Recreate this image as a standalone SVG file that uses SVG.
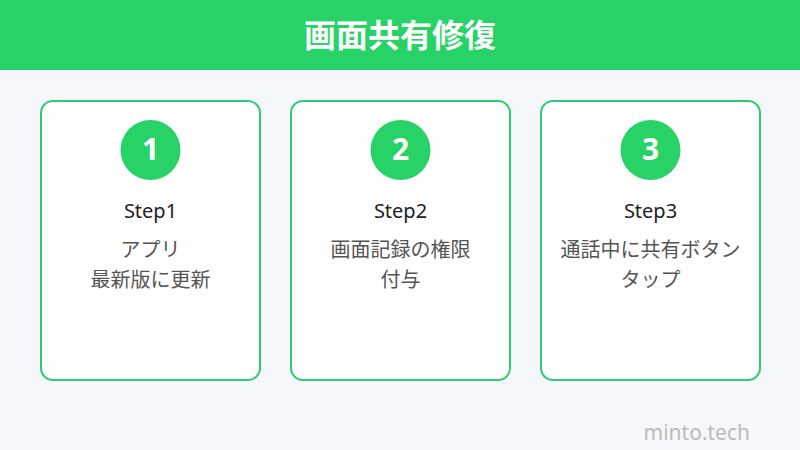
<svg xmlns="http://www.w3.org/2000/svg" width="800" height="450" viewBox="0 0 800 450">
<style>
.card{fill:#ffffff;stroke:#2ECC71;stroke-width:2}
.num{fill:#ffffff;font-family:"Noto Sans","Noto Sans CJK JP",sans-serif;font-weight:bold;font-size:30px;text-anchor:middle}
.step{fill:#222222;font-family:"Noto Sans","Noto Sans CJK JP",sans-serif;font-size:20px;text-anchor:middle}
.desc{fill:#555555;font-family:"Noto Sans CJK JP",sans-serif;font-size:20px;text-anchor:middle}
.title{fill:#ffffff;font-family:"Noto Sans CJK JP",sans-serif;font-weight:bold;font-size:32px;text-anchor:middle}
</style>
<rect x="0" y="0" width="800" height="450" fill="#F5F7FA"/>
<rect x="0" y="0" width="800" height="70" fill="#27D366"/>
<text class="title" x="400" y="47">画面共有修復</text>
<g id="step1">
<rect class="card" x="41" y="101" width="219" height="279" rx="12"/>
<circle cx="150.5" cy="150" r="30" fill="#27D366"/>
<text class="num" x="150.5" y="160">1</text>
<text class="step" x="150.5" y="218">Step1</text>
<text class="desc" x="150.5" y="257">アプリ</text>
<text class="desc" x="150.5" y="287">最新版に更新</text>
</g>
<g id="step2">
<rect class="card" x="291" y="101" width="219" height="279" rx="12"/>
<circle cx="400.5" cy="150" r="30" fill="#27D366"/>
<text class="num" x="400.5" y="160">2</text>
<text class="step" x="400.5" y="218">Step2</text>
<text class="desc" x="400.5" y="257">画面記録の権限</text>
<text class="desc" x="400.5" y="287">付与</text>
</g>
<g id="step3">
<rect class="card" x="541" y="101" width="219" height="279" rx="12"/>
<circle cx="650.5" cy="150" r="30" fill="#27D366"/>
<text class="num" x="650.5" y="160">3</text>
<text class="step" x="650.5" y="218">Step3</text>
<text class="desc" x="650.5" y="257">通話中に共有ボタン</text>
<text class="desc" x="650.5" y="287">タップ</text>
</g>
<g id="connectors"></g>
<text x="750" y="440" fill="#BBBBBB" font-family="Noto Sans, sans-serif" font-size="21" text-anchor="end">minto.tech</text>
</svg>
